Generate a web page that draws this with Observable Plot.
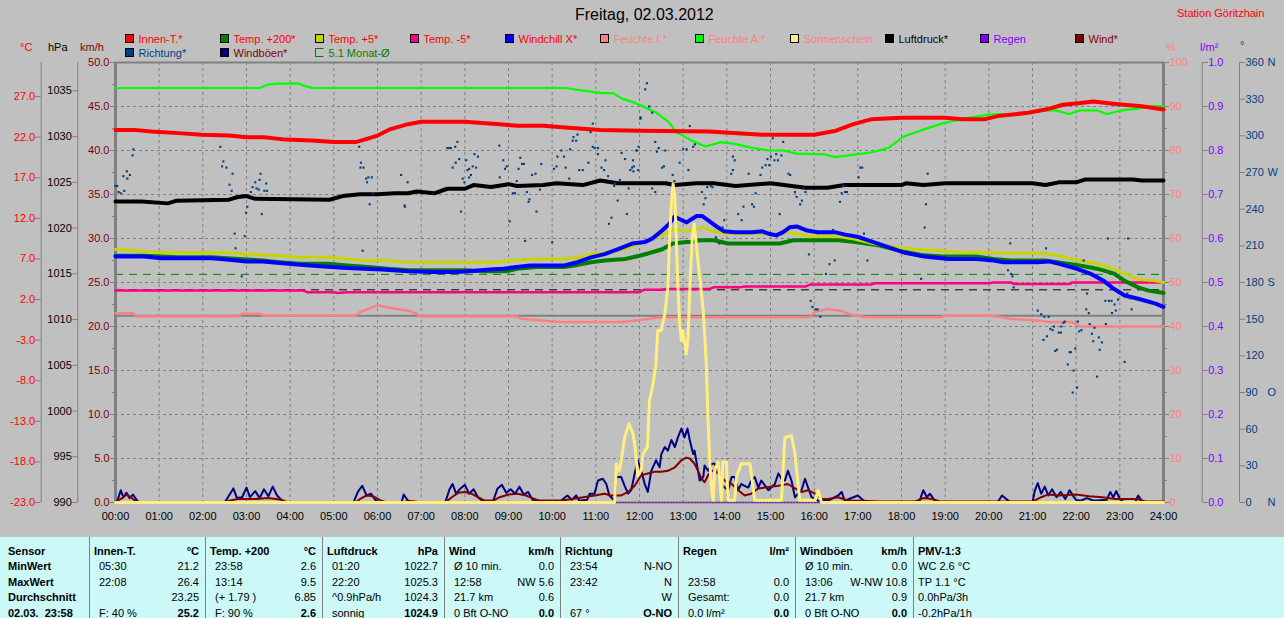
<!DOCTYPE html>
<html><head><meta charset="utf-8">
<script src="https://cdn.jsdelivr.net/npm/d3@7"></script>
<script src="https://cdn.jsdelivr.net/npm/@observablehq/plot@0.6"></script>
<style>
body{margin:0;background:#c0c0c0;}
#root{position:relative;width:1284px;height:618px;overflow:hidden;background:#c0c0c0;font-family:"Liberation Sans",Arial,sans-serif;font-size:11px;}
#chart{position:absolute;left:0;top:0;}
.t{position:absolute;white-space:pre;line-height:11px;transform:translateY(-50%);}
.sq{position:absolute;width:7px;height:7px;border:1px solid #000;}
#table{position:absolute;left:0;top:537px;width:1284px;height:81px;background:#ccf8f8;}
.sep{position:absolute;top:0;width:1px;height:81px;background:#808080;}
</style></head><body><div id="root"><div id="chart"></div><div id="table"></div></div>
<script>
// ---------- data: [hour, value] ----------
const innenT = [[0,22.9],[0.43,22.9],[0.82,22.7],[1.44,22.5],[1.98,22.3],[2.6,22.2],[3.0,22.0],[3.4,22.0],[3.9,21.7],[4.5,21.6],[5.0,21.4],[5.5,21.4],[5.7,21.7],[6.0,22.2],[6.3,23.0],[6.7,23.6],[7.0,23.9],[8.0,23.9],[8.8,23.6],[9.2,23.4],[9.8,23.4],[10.3,23.2],[11.1,22.9],[12.0,22.8],[13.6,22.7],[14.8,22.3],[16.0,22.3],[16.5,22.8],[16.9,23.6],[17.3,24.2],[18,24.4],[19,24.4],[19.4,24.2],[19.9,24.2],[20.2,24.6],[20.9,25.0],[21.3,25.4],[21.7,26.0],[22.1,26.2],[22.4,26.4],[22.9,26.1],[23.5,25.8],[24,25.4]];
const temp200 = [[0,7.4],[0.66,7.4],[1.44,7.2],[2.21,7.2],[2.83,7.0],[3.37,6.8],[3.76,6.6],[4.23,6.4],[4.85,6.4],[5.31,6.2],[5.78,6.0],[6.24,5.8],[6.71,5.6],[8.03,5.6],[8.41,5.5],[8.96,5.5],[9.19,5.8],[9.66,6.0],[10.28,6.0],[10.51,6.2],[10.89,6.6],[11.2,6.8],[11.67,7.0],[12.0,7.4],[12.21,7.7],[12.52,8.2],[12.76,8.9],[13.08,9.1],[13.23,9.1],[13.39,9.3],[13.71,9.3],[14.02,8.9],[14.58,8.9],[15.21,8.9],[15.52,9.3],[16.55,9.3],[16.95,9.1],[17.5,8.65],[17.97,8.0],[18.45,7.5],[18.92,7.3],[19.71,7.3],[20.11,7.0],[20.5,6.8],[21.29,6.8],[21.68,6.5],[22.08,6.2],[22.48,5.8],[22.87,5.2],[23.11,4.3],[23.42,3.5],[23.66,3.1],[24,2.8]];
const temp5 = [[0,8.2],[0.12,8.2],[0.66,7.9],[1.44,7.8],[2.6,7.8],[3.0,7.6],[3.76,7.4],[4.15,7.2],[4.92,7.2],[5.31,7.0],[5.7,6.8],[6.24,6.8],[6.55,6.6],[8.72,6.6],[9.03,6.8],[9.58,7.0],[10.35,7.0],[10.58,7.2],[10.89,7.6],[11.28,7.8],[11.67,8.2],[12.0,8.9],[12.13,9.1],[12.37,9.7],[12.6,10.1],[12.76,10.6],[12.92,10.6],[13.08,10.4],[13.31,10.7],[13.47,10.9],[13.63,10.5],[13.87,10.2],[14.18,10.1],[14.97,10.1],[15.13,9.9],[15.37,10.3],[15.6,10.1],[15.92,9.8],[16.55,9.8],[16.87,9.5],[17.34,8.9],[17.81,8.5],[18.29,8.2],[18.92,8.0],[19.39,7.8],[20.11,7.8],[20.5,7.7],[21.29,7.7],[21.6,7.4],[22.08,6.8],[22.48,6.4],[22.87,5.8],[23.1,5.2],[23.42,4.5],[23.82,4.3],[24,4.1]];
const tempMinus5 = [[0,3.1],[4.3,3.1],[4.4,2.9],[5.0,2.9],[5.1,2.8],[5.3,2.9],[12.0,2.9],[12.1,3.2],[12.5,3.2],[12.6,3.3],[13.6,3.3],[13.7,3.5],[14.3,3.5],[14.4,3.6],[15.8,3.6],[15.9,3.85],[17.3,3.85],[17.4,4.0],[20.0,4.0],[20.1,4.1],[20.5,4.1],[20.6,3.9],[21.85,3.9],[21.9,4.1],[24,4.1]];
const windchill = [[0,7.3],[0.66,7.3],[1.05,7.1],[2.21,7.1],[2.6,6.9],[2.99,6.7],[3.37,6.7],[3.76,6.5],[4.23,6.3],[4.69,6.1],[5.31,5.9],[6.09,5.7],[6.71,5.5],[7.25,5.4],[7.79,5.4],[8.1,5.5],[8.57,5.7],[8.88,5.8],[9.19,6.0],[9.5,6.2],[10.28,6.2],[10.58,6.6],[10.89,7.2],[11.2,7.6],[11.51,8.2],[11.83,8.9],[12.13,9.1],[12.29,9.5],[12.52,10.5],[12.68,11.3],[12.8,12.2],[13.0,11.7],[13.08,11.5],[13.19,11.9],[13.31,12.3],[13.43,12.3],[13.59,11.7],[13.79,10.9],[13.94,10.4],[14.18,10.3],[14.58,10.3],[14.81,10.4],[14.97,10.1],[15.13,9.9],[15.29,10.3],[15.44,10.9],[15.6,11.0],[15.84,10.5],[16.08,10.3],[16.47,10.3],[16.71,10.0],[17.02,9.7],[17.34,9.1],[17.73,8.4],[18.05,7.8],[18.52,7.3],[19.08,7.0],[19.71,7.0],[20.11,6.8],[20.34,6.6],[21.13,6.6],[21.37,6.7],[21.61,6.4],[22.0,5.8],[22.32,5.2],[22.63,4.3],[22.87,3.3],[23.11,2.5],[23.42,2.1],[23.82,1.5],[24,1.1]];
const feuchteI = [[0,43.0],[0.4,43.0],[0.5,42.3],[2.8,42.3],[2.9,42.9],[3.3,42.9],[3.4,42.5],[5.5,42.5],[5.6,43.3],[6.0,44.8],[6.3,44.2],[6.7,43.6],[6.9,42.9],[7.0,42.3],[9.2,42.3],[9.3,41.7],[10.2,41.0],[11.6,41.0],[12.0,41.5],[12.5,42.1],[15.9,42.1],[16.0,43.2],[16.3,44.0],[16.6,43.6],[16.9,42.5],[17.2,42.1],[18.9,42.1],[19.0,42.5],[20.0,42.5],[20.3,42.1],[20.5,41.7],[21.0,41.5],[21.4,41.0],[21.9,41.0],[22.0,40.5],[22.1,40.0],[24,40.0]];
const feuchteA = [[0,94.2],[3.3,94.2],[3.5,95.0],[3.7,95.2],[4.2,95.2],[4.3,94.8],[4.5,94.2],[10.3,94.2],[10.7,93.6],[11.1,93.1],[11.4,93.0],[11.6,91.8],[11.85,91.0],[12.13,89.8],[12.37,88.7],[12.68,86.4],[12.84,84.2],[13.19,82.3],[13.51,80.9],[13.87,81.9],[14.18,81.5],[14.58,80.6],[14.97,80.0],[15.29,80.0],[15.6,79.3],[16.24,79.1],[16.47,78.5],[16.87,79.0],[17.34,79.6],[17.7,80.6],[18.05,83.2],[18.52,84.8],[18.92,86.1],[19.32,87.0],[19.63,87.6],[20.03,88.2],[20.58,88.3],[21.29,89.1],[21.53,89.1],[21.84,88.3],[22.08,89.1],[22.48,89.1],[22.71,88.3],[23.03,89.1],[23.42,89.5],[23.66,90.1],[24,90.1]];
const sonnenschein = [[0,0],[11.43,0],[11.47,8.8],[11.54,7.3],[11.58,9.5],[11.66,14.8],[11.76,17.9],[11.85,15.6],[11.90,12.6],[11.96,6.1],[12.04,7.3],[12.08,11.1],[12.18,12.6],[12.23,23.2],[12.31,27.0],[12.37,30.8],[12.42,39.1],[12.50,39.1],[12.58,42.9],[12.65,48.9],[12.69,60.3],[12.73,67.9],[12.77,72.4],[12.81,69.4],[12.84,60.3],[12.88,48.9],[12.92,40.6],[12.96,36.8],[12.99,39.1],[13.07,33.8],[13.11,37.6],[13.17,52.7],[13.21,60.3],[13.25,63.3],[13.30,58.8],[13.38,51.2],[13.46,43.6],[13.53,31.5],[13.57,18.6],[13.61,9.5],[13.65,2.7],[13.69,0.5],[13.72,7.3],[13.80,9.2],[13.88,0.5],[13.91,9.2],[13.99,9.2],[14.03,0.5],[14.18,0.5],[14.22,5.8],[14.33,8.8],[14.53,8.8],[14.64,0.5],[15.25,0.5],[15.33,14.8],[15.48,15.2],[15.56,11.1],[15.67,0.5],[16.02,0.5],[16.09,2.7],[16.17,0],[24,0]];
const luftdruck = [[0,1022.9],[0.6,1022.9],[1.2,1022.7],[1.4,1023.0],[2.6,1023.1],[2.8,1023.4],[3.0,1023.5],[3.2,1023.2],[4.9,1023.1],[5.2,1023.5],[5.6,1023.7],[6.0,1023.7],[6.4,1023.8],[6.7,1023.8],[6.9,1024.0],[7.3,1023.8],[7.6,1024.3],[8.0,1024.3],[8.2,1024.7],[8.6,1024.5],[9.0,1024.8],[9.2,1024.6],[9.8,1024.7],[10.1,1024.9],[10.7,1024.7],[11.1,1025.2],[11.5,1024.9],[12.6,1024.9],[12.8,1024.7],[13.3,1024.9],[13.7,1024.9],[14.2,1024.6],[15.0,1024.9],[15.8,1024.4],[16.3,1024.4],[16.7,1024.7],[18,1024.7],[18.1,1024.9],[18.5,1024.7],[19.0,1024.9],[21.0,1024.9],[21.3,1024.7],[21.6,1025.0],[22.0,1025.0],[22.2,1025.3],[23.3,1025.3],[23.5,1025.2],[24,1025.2]];
const regen = [[0,0],[24,0]];
const wind = [[0,0],[0.05,0.2],[0.15,0.5],[0.25,0.9],[0.35,0.6],[0.45,0.2],[0.55,0],[2.5,0],[2.6,0.2],[2.8,0.4],[3.2,0.4],[3.5,0.5],[3.8,0.3],[3.95,0],[5.5,0],[5.6,0.4],[5.75,0.8],[5.9,0.7],[6.05,0.3],[6.2,0],[6.6,0],[6.7,0.2],[6.9,0.1],[7.0,0],[7.55,0],[7.7,0.6],[7.85,1.1],[8.0,1.2],[8.15,1.0],[8.3,0.6],[8.45,0.2],[8.65,0.2],[8.8,0.6],[9.0,0.9],[9.2,1.0],[9.4,0.8],[9.55,0.5],[9.7,0.2],[10.2,0.2],[10.97,0.8],[11.2,1.0],[11.35,0.8],[11.58,0.8],[11.74,1.2],[11.89,1.9],[12.04,3.1],[12.19,3.3],[12.34,3.5],[12.50,3.5],[12.65,3.6],[12.81,4.0],[12.96,4.8],[13.07,5.1],[13.15,5.0],[13.26,4.4],[13.34,3.6],[13.42,2.7],[13.49,2.3],[13.57,3.1],[13.65,3.6],[13.72,3.6],[13.80,3.3],[13.95,2.5],[14.11,2.1],[14.26,1.4],[14.41,0.8],[14.56,1.0],[14.72,1.6],[14.87,1.7],[15.18,1.9],[15.40,2.1],[15.56,1.6],[15.71,1.2],[15.86,1.4],[16.02,1.0],[16.17,0.4],[16.32,0.4],[16.55,0.6],[16.78,0.2],[17.09,0.2],[17.5,0.1],[18.3,0.1],[18.5,0.5],[18.7,0.4],[18.9,0.1],[21.0,0.1],[21.2,0.6],[21.35,0.9],[21.6,0.8],[22.0,0.9],[22.3,0.7],[22.6,0.6],[22.9,0.4],[23.1,0.4],[23.4,0.4],[23.6,0.1],[24,0.1]];
const windboeen = [[0,0],[0.05,0.3],[0.12,1.4],[0.18,0.6],[0.25,1.1],[0.32,0.5],[0.4,0.9],[0.5,0.2],[0.55,0],[2.5,0],[2.6,0.8],[2.7,1.6],[2.78,0.5],[2.9,0.6],[3.0,1.7],[3.08,0.6],[3.2,1.3],[3.3,0.5],[3.4,1.5],[3.5,0.7],[3.6,1.8],[3.7,0.8],[3.8,0.3],[3.9,0],[5.45,0],[5.55,1.2],[5.65,1.9],[5.75,0.8],[5.85,1.0],[5.95,0.3],[6.05,0],[6.55,0],[6.6,0.9],[6.7,0.2],[6.75,0],[7.55,0],[7.65,1.5],[7.72,2.1],[7.8,1.0],[7.9,1.6],[8.0,2.0],[8.1,1.0],[8.2,1.5],[8.3,0.6],[8.4,0.2],[8.65,0.2],[8.75,1.6],[8.85,2.0],[8.95,1.1],[9.05,1.5],[9.15,1.0],[9.25,1.8],[9.35,0.9],[9.45,1.2],[9.55,0.3],[9.7,0.2],[10.2,0.2],[10.35,0.8],[10.45,0.3],[10.55,0.8],[10.62,0.2],[10.8,0.3],[10.86,1.0],[10.97,1.0],[11.05,2.5],[11.16,2.7],[11.24,2.1],[11.31,0.8],[11.43,0.2],[11.47,2.9],[11.58,2.9],[11.66,1.9],[11.74,1.0],[11.81,1.4],[11.89,3.3],[11.96,4.8],[12.04,3.6],[12.12,2.1],[12.19,1.2],[12.27,3.6],[12.38,4.8],[12.46,4.0],[12.50,5.5],[12.58,6.3],[12.65,5.9],[12.73,7.1],[12.81,6.3],[12.88,7.4],[12.96,8.4],[13.03,7.4],[13.10,8.4],[13.15,7.1],[13.23,5.5],[13.26,5.9],[13.34,3.6],[13.38,2.5],[13.46,2.9],[13.49,4.2],[13.57,3.6],[13.65,4.4],[13.72,4.4],[13.80,3.6],[13.88,2.1],[13.95,1.7],[14.03,1.4],[14.11,2.9],[14.18,2.9],[14.26,1.4],[14.33,2.1],[14.49,1.7],[14.56,2.5],[14.64,2.9],[14.72,1.7],[14.79,2.5],[14.95,1.4],[15.10,2.1],[15.18,3.3],[15.25,2.7],[15.33,2.5],[15.40,3.6],[15.48,2.5],[15.56,0.6],[15.71,1.4],[15.79,2.7],[15.86,1.7],[15.94,0.6],[16.09,0.2],[16.32,0.2],[16.55,0.8],[16.63,1.2],[16.70,0.2],[17.0,0.8],[17.09,0.4],[17.2,0],[18.4,0],[18.5,1.4],[18.58,0.6],[18.65,1.0],[18.75,0.3],[18.85,0],[20.2,0],[20.3,0.8],[20.4,0.4],[20.5,0],[21.0,0],[21.05,1.3],[21.12,2.2],[21.2,1.0],[21.28,1.8],[21.36,0.8],[21.45,1.5],[21.55,0.6],[21.65,1.2],[21.75,0.4],[21.85,1.4],[21.95,0.6],[22.0,0.3],[22.1,0.2],[22.25,0.5],[22.4,0.2],[22.7,0.3],[22.78,1.2],[22.85,0.6],[22.92,1.3],[23.0,0.4],[23.1,0],[23.35,0],[23.42,0.8],[23.5,0.2],[23.6,0],[24,0]];
const richtung = [[0.0,259],[0.04,259],[0.07,254],[0.12,253],[0.2,255],[0.18,267],[0.26,271],[0.27,265],[0.33,268],[0.39,284],[0.41,289],[2.40,291],[2.47,279],[2.44,275],[2.54,274],[2.61,260],[2.66,255],[2.68,269],[2.73,220],[2.75,208],[2.89,185],[2.96,218],[2.99,237],[3.02,242],[3.10,254],[3.14,258],[3.20,262],[3.23,257],[3.28,256],[3.30,264],[3.32,269],[3.35,236],[3.41,255],[3.45,261],[3.47,255],[5.58,291],[5.62,278],[5.61,274],[5.68,274],[5.74,265],[5.79,266],[5.76,262],[5.87,266],[5.82,244],[5.89,253],[5.66,206],[6.54,268],[6.62,243],[6.63,242],[6.69,262],[7.60,290],[7.64,290],[7.68,290],[7.78,291],[7.83,295],[7.87,281],[7.79,278],[7.72,274],[7.95,265],[8.03,280],[8.06,272],[8.10,266],[8.14,268],[8.18,275],[8.22,285],[8.26,274],[8.30,283],[7.91,238],[7.99,262],[8.10,273],[8.79,292],[8.80,266],[8.88,280],[8.92,273],[8.96,275],[9.03,230],[9.10,253],[9.15,253],[9.19,263],[9.23,273],[9.27,282],[9.31,277],[9.35,277],[9.38,214],[9.42,254],[9.46,246],[9.48,248],[9.54,268],[9.62,269],[9.64,238],[9.72,256],[9.75,277],[10.00,213],[10.04,273],[10.10,275],[10.12,283],[10.21,288],[10.27,283],[10.31,274],[10.39,265],[10.41,289],[10.47,296],[10.49,299],[10.55,296],[10.58,301],[10.62,272],[10.70,272],[10.83,278],[10.88,303],[10.93,310],[10.93,291],[10.97,290],[11.05,290],[11.05,285],[11.13,274],[11.19,272],[11.22,280],[11.28,267],[11.30,228],[11.36,233],[11.42,259],[11.44,261],[11.50,247],[11.55,264],[11.59,286],[11.67,281],[11.71,236],[11.75,257],[11.79,272],[11.83,274],[11.86,271],[11.94,288],[11.98,291],[12.02,314],[12.17,343],[12.13,338],[12.03,315],[11.93,288],[11.87,275],[11.97,272],[11.85,280],[12.22,324],[12.29,319],[12.36,295],[12.40,287],[12.44,290],[12.59,288],[12.52,274],[12.29,257],[12.36,254],[12.56,275],[12.76,268],[12.80,263],[12.92,278],[13.00,289],[13.08,289],[13.15,308],[13.12,272],[13.23,291],[13.27,293],[13.43,254],[13.47,244],[13.51,249],[13.55,258],[13.63,259],[13.67,258],[13.75,217],[13.83,212],[13.90,225],[13.94,231],[14.10,269],[14.14,283],[14.18,280],[14.14,272],[14.26,236],[14.34,231],[14.38,242],[14.50,269],[14.58,244],[14.62,242],[14.66,253],[14.77,268],[14.81,274],[14.89,276],[14.93,281],[14.97,276],[15.01,283],[15.05,298],[15.09,280],[15.13,285],[15.17,280],[15.21,236],[15.25,284],[15.29,295],[15.41,269],[15.45,268],[15.56,254],[15.60,250],[15.68,244],[15.72,247],[15.76,257],[15.80,254],[15.88,203],[15.92,165],[15.96,160],[16.04,158],[16.08,158],[16.14,152],[16.27,187],[16.35,195],[16.43,223],[16.47,198],[16.59,246],[16.63,253],[16.67,259],[16.71,254],[16.75,254],[17.02,266],[17.06,274],[17.10,274],[17.14,220],[17.22,198],[18.45,183],[18.53,225],[18.56,244],[18.60,269],[20.49,212],[21.31,208],[22.73,216],[23.19,216],[20.44,190],[20.51,187],[20.54,185],[20.57,176],[21.12,157],[21.20,154],[21.27,152],[21.37,152],[21.25,133],[21.33,136],[21.41,142],[21.46,141],[21.49,144],[21.52,124],[21.56,125],[21.60,139],[21.65,139],[21.66,144],[21.71,147],[21.74,148],[21.81,113],[21.85,123],[21.88,123],[21.94,108],[21.98,126],[22.02,94],[21.92,90],[22.04,148],[22.07,140],[22.12,141],[22.17,198],[22.25,171],[22.23,158],[22.29,155],[22.31,146],[22.36,138],[22.39,132],[22.42,143],[22.48,103],[22.52,135],[22.54,125],[22.59,131],[22.67,165],[22.68,146],[22.75,165],[22.81,165],[22.82,155],[22.88,162],[22.91,157],[22.96,166],[23.11,115],[23.17,171],[23.24,167],[23.27,158]];
const monatMittel = [5.1];     // °C
const normDruck = [1013.25];   // hPa
const nullGrad = [0];          // °C

// tick labels
const hours = d3.range(0, 25);
const cTicks = d3.range(-23, 28, 5);
const pTicks = d3.range(990, 1036, 5);
const kTicks = d3.range(0, 51, 5);
const hTicks = d3.range(0, 101, 10);
const lTicks = d3.range(0, 1.0001, 0.1);
const dTicks = d3.range(0, 361, 30);
const dirLetters = {0: "N", 90: "O", 180: "S", 270: "W", 360: "N"};

// axis ranges (all mapped onto the km/h scale 0..50)
const C = v => (v + 23) * 50 / 54.2;
const P = v => (v - 990) * 50 / 48.1;
const K = v => v;
const H = v => v / 2;
const L = v => v * 50;
const D = v => v * 50 / 360;

const GRAY = "#808080";
const line = (data, f, stroke, w, extra = {}) =>
  Plot.line(data, {x: d => d[0], y: d => f(d[1]), stroke, strokeWidth: w, ...extra});

const chart = Plot.plot({
  width: 1284, height: 530,
  marginLeft: 115, marginRight: 121, marginTop: 62, marginBottom: 28,
  x: {domain: [0, 24], label: null},
  y: {domain: [0, 50], label: null},
  style: {background: "transparent", fontFamily: "Liberation Sans, Arial, sans-serif", fontSize: "11px", color: "#000"},
  marks: [
    Plot.gridX(d3.range(1, 24), {stroke: GRAY, strokeOpacity: 1, strokeDasharray: "3,3"}),
    Plot.gridY(d3.range(5, 50, 5), {stroke: GRAY, strokeOpacity: 1, strokeDasharray: "3,3"}),
    Plot.ruleY(nullGrad.map(C), {stroke: GRAY, strokeWidth: 2}),
    Plot.ruleY(monatMittel.map(C), {stroke: "#008000", strokeDasharray: "8,6"}),
    Plot.ruleY(normDruck.map(P), {stroke: "#000", strokeDasharray: "8,6"}),
    Plot.frame({stroke: GRAY, strokeWidth: 2}),
    Plot.ruleX([0, 24], {stroke: GRAY, strokeWidth: 3}),
    // side axis lines
    Plot.ruleX([0], {dx: -74.3, stroke: GRAY}),
    Plot.ruleX([0], {dx: -37.7, stroke: GRAY}),
    Plot.ruleX([24], {dx: 38.7, stroke: GRAY}),
    Plot.ruleX([24], {dx: 76, stroke: GRAY}),
    // axes
    Plot.axisY(cTicks.map(C), {anchor: "left", dx: -74.3, tickSize: 6, tickPadding: 0, stroke: GRAY, fill: "#ff0000", label: null,
      tickFormat: d => (d * 54.2 / 50 - 23).toFixed(1)}),
    Plot.axisY(pTicks.map(P), {anchor: "left", dx: -37.7, tickSize: 5, tickPadding: 1, stroke: GRAY, fill: "#000", label: null,
      tickFormat: d => String(Math.round(d * 48.1 / 50 + 990))}),
    Plot.axisY(kTicks.map(K), {anchor: "left", tickSize: 5, tickPadding: 1, stroke: GRAY, fill: "#800000", label: null,
      tickFormat: d => d.toFixed(1)}),
    Plot.axisY(d3.range(2.5, 50, 5), {anchor: "left", tickSize: 3, stroke: GRAY, label: null, tickFormat: () => ""}),
    Plot.axisY(hTicks.map(H), {anchor: "right", tickSize: 5, tickPadding: 1, stroke: GRAY, fill: "#ff8080", label: null,
      tickFormat: d => String(Math.round(d * 2))}),
    Plot.axisY(d3.range(5, 100, 10).map(H), {anchor: "right", tickSize: 3, stroke: GRAY, label: null, tickFormat: () => ""}),
    Plot.axisY(lTicks.map(L), {anchor: "right", dx: 38.7, tickSize: 5, tickPadding: 1, stroke: GRAY, fill: "#8000ff", label: null,
      tickFormat: d => (d / 50).toFixed(1)}),
    Plot.axisY(dTicks.map(D), {anchor: "right", dx: 76, tickSize: 5, tickPadding: 1, stroke: GRAY, fill: "#004080", label: null,
      tickFormat: d => String(Math.round(d * 360 / 50))}),
    Plot.axisY([0, 90, 180, 270, 360].map(D), {anchor: "right", tickSize: 0, tickPadding: 104, fill: "#004080", label: null,
      tickFormat: d => dirLetters[Math.round(d * 360 / 50)]}),
    Plot.axisX(hours, {anchor: "bottom", tickSize: 0, tickPadding: 10, fill: "#000", label: null,
      tickFormat: d => String(d).padStart(2, "0") + ":00"}),
    // series
    line(feuchteI, H, "#ff8080", 2.5),
    line(feuchteA, H, "#00ff00", 2.2),
    line(tempMinus5, C, "#ff0080", 2.5),
    line(temp200, C, "#008000", 4),
    line(temp5, C, "#c8d400", 3),
    line(windchill, C, "#0000ff", 4),
    line(innenT, C, "#ff0000", 4),
    line(luftdruck, P, "#000000", 4),
    Plot.dot(richtung, {x: d => d[0], y: d => D(d[1]), symbol: "square", r: 1.2, fill: "#004080"}),
    line(windboeen, K, "#000080", 2),
    line(wind, K, "#800000", 2),
    line(regen, L, "#8000ff", 1, {strokeDasharray: "1,2"}),
    line(sonnenschein, H, "#ffee80", 3)
  ]
});
document.getElementById("chart").appendChild(chart);

// ---------- header / legend ----------
const root = document.getElementById("root");
function txt(s, x, y, color, extra = "") {
  const e = document.createElement("div");
  e.className = "t"; e.textContent = s;
  e.style.cssText += `left:${x}px;top:${y}px;color:${color};${extra}`;
  root.appendChild(e); return e;
}
txt("Freitag, 02.03.2012", 575, 15, "#000", "font-size:16px;line-height:16px;");
txt("Station Göritzhain", 1177, 13, "#ff0000");
const legend1 = ["Innen-T.*", "Temp. +200*", "Temp. +5*", "Temp. -5*", "Windchill X*", "Feuchte I.*", "Feuchte A.*", "Sonnenschein", "Luftdruck*", "Regen", "Wind*"];
const legend1Box = ["#ff0000", "#008000", "#c8d400", "#ff0080", "#0000ff", "#ff8080", "#00ff00", "#ffee80", "#000000", "#8000ff", "#800000"];
const legend1Text = ["#ff0000", "#ff0000", "#ff0000", "#ff0000", "#ff0000", "#ff8080", "#ff8080", "#ff8080", "#000000", "#8000ff", "#800000"];
const legend2 = ["Richtung*", "Windböen*", "5.1 Monat-Ø"];
const legend2Box = ["#004080", "#000080", null];
const legend2Text = ["#004080", "#800000", "#008000"];
function box(x, y, fill) {
  const b = document.createElement("div");
  b.className = "sq";
  b.style.left = x + "px"; b.style.top = y + "px";
  if (fill) b.style.background = fill;
  else { b.style.border = "1px solid #008000"; b.style.borderRightColor = "transparent"; }
  root.appendChild(b);
}
legend1.forEach((s, i) => { const x = 124.5 + 95 * i; box(x, 33.5, legend1Box[i]); txt(s, x + 14, 38.5, legend1Text[i]); });
legend2.forEach((s, i) => { const x = 124.5 + 95 * i; box(x, 47.5, legend2Box[i]); txt(s, x + 14, 52.5, legend2Text[i]); });
txt("°C", 20, 47, "#ff0000"); txt("hPa", 48, 47, "#000"); txt("km/h", 80, 47, "#800000");
txt("%", 1166, 47, "#ff8080"); txt("l/m²", 1200, 47, "#8000ff"); txt("°", 1240, 45, "#004080");

// ---------- table ----------
const tableCols = [
  {x: 0, w: 89, head: ["Sensor", ""], rows: [["MinWert", ""], ["MaxWert", ""], ["Durchschnitt", ""], ["02.03.  23:58", ""]]},
  {x: 89, w: 116, head: ["Innen-T.", "°C"], rows: [["05:30", "21.2"], ["22:08", "26.4"], ["", "23.25"], ["F: 40 %", "25.2"]]},
  {x: 205, w: 117, head: ["Temp. +200", "°C"], rows: [["23:58", "2.6"], ["13:14", "9.5"], ["(+ 1.79 )", "6.85"], ["F: 90 %", "2.6"]]},
  {x: 322, w: 122, head: ["Luftdruck", "hPa"], rows: [["01:20", "1022.7"], ["22:20", "1025.3"], ["^0.9hPa/h", "1024.3"], ["sonnig", "1024.9"]]},
  {x: 444, w: 116, head: ["Wind", "km/h"], rows: [["Ø 10 min.", "0.0"], ["12:58", "NW 5.6"], ["21.7 km", "0.6"], ["0 Bft O-NO", "0.0"]]},
  {x: 560, w: 118, head: ["Richtung", ""], rows: [["23:54", "N-NO"], ["23:42", "N"], ["", "W"], ["67 °", "O-NO"]]},
  {x: 678, w: 117, head: ["Regen", "l/m²"], rows: [["", ""], ["23:58", "0.0"], ["Gesamt:", "0.0"], ["0.0 l/m²", "0.0"]]},
  {x: 795, w: 118, head: ["Windböen", "km/h"], rows: [["Ø 10 min.", "0.0"], ["13:06", "W-NW 10.8"], ["21.7 km", "0.9"], ["0 Bft O-NO", "0.0"]]},
  {x: 913, w: 371, head: ["PMV-1:3", ""], rows: [["WC 2.6 °C", ""], ["TP 1.1 °C", ""], ["0.0hPa/3h", ""], ["-0.2hPa/1h", ""]]}
];
const table = document.getElementById("table");
const rowY = [14, 29, 45, 60, 76];
function cell(s, x, y, bold, right) {
  const e = document.createElement("div");
  e.className = "t"; e.textContent = s;
  e.style.top = y + "px"; e.style.color = "#000";
  if (bold) e.style.fontWeight = "bold";
  if (right) { e.style.right = (1284 - right) + "px"; } else { e.style.left = x + "px"; }
  table.appendChild(e);
}
tableCols.forEach((c, ci) => {
  if (ci > 0) { const s = document.createElement("div"); s.className = "sep"; s.style.left = c.x + "px"; table.appendChild(s); }
  const lx = ci === 0 ? 8 : c.x + 5;
  const rx = c.x + c.w - 6;
  cell(c.head[0], lx, rowY[0], true);
  if (c.head[1]) cell(c.head[1], 0, rowY[0], true, rx);
  c.rows.forEach((r, ri) => {
    cell(r[0], ci === 0 ? lx : lx + (ci === 8 ? 0 : 5), rowY[ri + 1], ci === 0);
    if (r[1]) cell(r[1], 0, rowY[ri + 1], ri === 3, rx);
  });
});
</script></body></html>
